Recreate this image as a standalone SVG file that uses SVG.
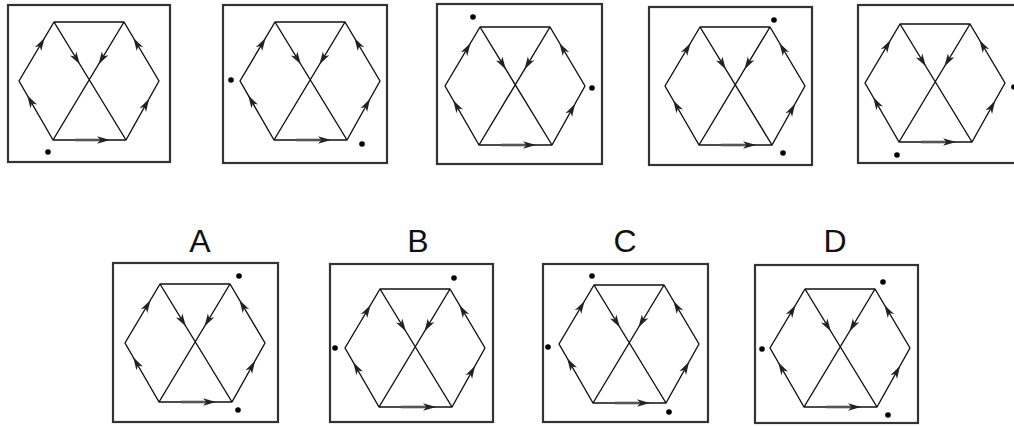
<svg xmlns="http://www.w3.org/2000/svg" xmlns:xlink="http://www.w3.org/1999/xlink" width="1014" height="427" viewBox="0 0 1014 427">
<style>
.box{fill:none;stroke:#333;stroke-width:2.2}
.ln{fill:none;stroke:#111;stroke-width:1.4;stroke-linecap:round;stroke-linejoin:round}
.sh{stroke:#555;stroke-width:2.6}
.ah{fill:#222}
.dot{fill:#000}
.lbl{font-family:"Liberation Sans",Arial,sans-serif;font-size:32px;fill:#111;text-anchor:middle}
</style>
<defs>
<path id="ah" class="ah" d="M0,0 L-13,-3.8 L-9.5,0 L-13,3.8 Z"/>
<g id="hex">
<path class="ln" d="M0,59 L35,0 L105,0 L140,59 L107,118 L34,118 Z M35,0 L107,118 M105,0 L34,118"/>
<line class="sh" x1="56" y1="118" x2="84" y2="118"/>
<use xlink:href="#ah" transform="translate(25.6,15.9) rotate(-59.3)"/>
<use xlink:href="#ah" transform="translate(8.2,73.2) rotate(-120)"/>
<use xlink:href="#ah" transform="translate(114.4,15.9) rotate(-120.7)"/>
<use xlink:href="#ah" transform="translate(130.1,76.7) rotate(-60.8)"/>
<use xlink:href="#ah" transform="translate(60.9,42.5) rotate(58.6)"/>
<use xlink:href="#ah" transform="translate(79.4,42.5) rotate(121)"/>
<use xlink:href="#ah" transform="translate(91,118)"/>
</g>
</defs>
<rect width="1014" height="427" fill="#fff"/>
<g id="p1">
<rect class="box" x="8" y="5" width="162" height="157"/>
<use xlink:href="#hex" transform="translate(19,22)"/>
<circle class="dot" cx="48" cy="152" r="2.8"/>
</g>
<g id="p2">
<rect class="box" x="223" y="5" width="164" height="158"/>
<use xlink:href="#hex" transform="translate(240,22)"/>
<circle class="dot" cx="231" cy="80" r="2.8"/>
<circle class="dot" cx="362" cy="144" r="2.8"/>
</g>
<g id="p3">
<rect class="box" x="437" y="4" width="165" height="160"/>
<use xlink:href="#hex" transform="translate(445,27)"/>
<circle class="dot" cx="473" cy="17" r="2.8"/>
<circle class="dot" cx="592" cy="88" r="2.8"/>
</g>
<g id="p4">
<rect class="box" x="649" y="7" width="163" height="158"/>
<use xlink:href="#hex" transform="translate(665,27)"/>
<circle class="dot" cx="774" cy="20" r="2.8"/>
<circle class="dot" cx="783" cy="153" r="2.8"/>
</g>
<g id="p5">
<rect class="box" x="858" y="5" width="172" height="158"/>
<use xlink:href="#hex" transform="translate(865,24)"/>
<circle class="dot" cx="897" cy="155" r="2.8"/>
<circle class="dot" cx="1014" cy="87" r="2.8"/>
</g>
<g id="optA">
<text class="lbl" x="200" y="252">A</text>
<rect class="box" x="113" y="263" width="165" height="159"/>
<use xlink:href="#hex" transform="translate(125,284)"/>
<circle class="dot" cx="239" cy="276" r="2.8"/>
<circle class="dot" cx="238" cy="410" r="2.8"/>
</g>
<g id="optB">
<text class="lbl" x="418" y="252">B</text>
<rect class="box" x="330" y="264" width="163" height="158"/>
<use xlink:href="#hex" transform="translate(345,289)"/>
<circle class="dot" cx="454" cy="278" r="2.8"/>
<circle class="dot" cx="335" cy="348" r="2.8"/>
</g>
<g id="optC">
<text class="lbl" x="625" y="252">C</text>
<rect class="box" x="543" y="264" width="165" height="158"/>
<use xlink:href="#hex" transform="translate(559,285)"/>
<circle class="dot" cx="592" cy="276" r="2.8"/>
<circle class="dot" cx="548" cy="347" r="2.8"/>
<circle class="dot" cx="669" cy="412" r="2.8"/>
</g>
<g id="optD">
<text class="lbl" x="835" y="252">D</text>
<rect class="box" x="755" y="265" width="163" height="158"/>
<use xlink:href="#hex" transform="translate(770,289)"/>
<circle class="dot" cx="883" cy="282" r="2.8"/>
<circle class="dot" cx="762" cy="349" r="2.8"/>
<circle class="dot" cx="888" cy="415" r="2.8"/>
</g>
</svg>
